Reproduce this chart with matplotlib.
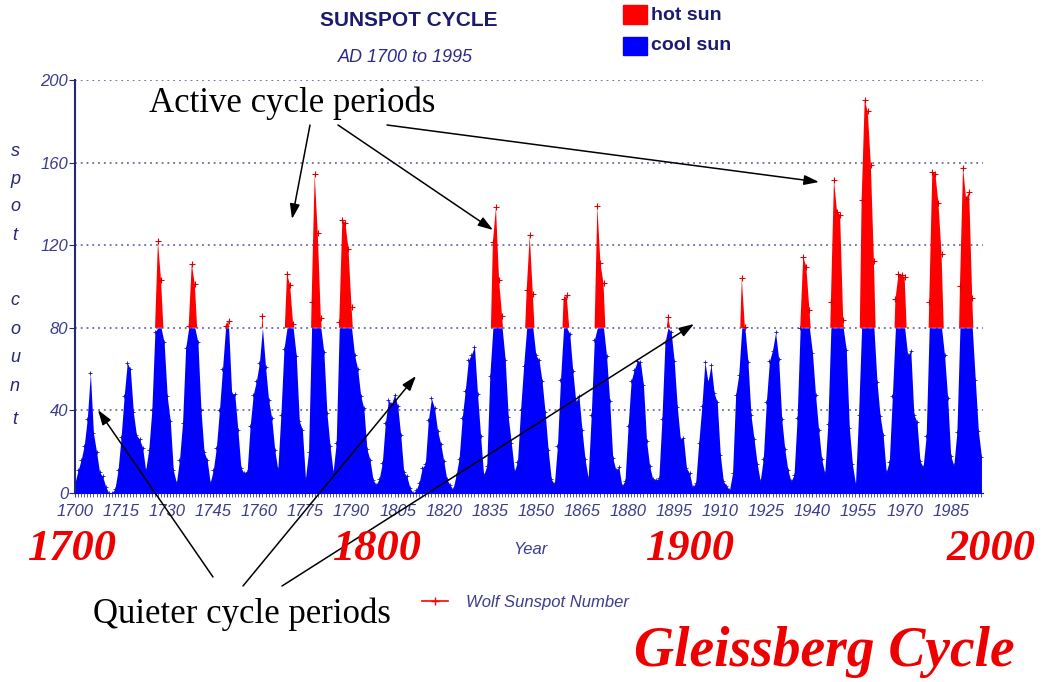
import matplotlib
matplotlib.use("Agg")
import matplotlib.pyplot as plt
import numpy as np
from matplotlib.patches import Rectangle

# yearly Wolf sunspot numbers, AD 1700 - 1995
years = np.arange(1700, 1996)
ssn = [
    5, 11, 16, 23, 36, 58, 29, 20, 10, 8,
    3, 0, 0, 2, 11, 27, 47, 63, 60, 39,
    28, 26, 22, 11, 21, 40, 78, 122, 103, 73,
    47, 35, 11, 5, 16, 34, 70, 81, 111, 101,
    73, 40, 20, 16, 5, 11, 22, 40, 60, 80.9,
    83.4, 47.7, 47.8, 30.7, 12.2, 9.6, 10.2, 32.4, 47.6, 54.0,
    62.9, 85.9, 61.2, 45.1, 36.4, 20.9, 11.4, 37.8, 69.8, 106.1,
    100.8, 81.6, 66.5, 34.8, 30.6, 7.0, 19.8, 92.5, 154.4, 125.9,
    84.8, 68.1, 38.5, 22.8, 10.2, 24.1, 82.9, 132.0, 130.9, 118.1,
    89.9, 66.6, 60.0, 46.9, 41.0, 21.3, 16.0, 6.4, 4.1, 6.8,
    14.5, 34.0, 45.0, 43.1, 47.5, 42.2, 28.1, 10.1, 8.1, 2.5,
    0.0, 1.4, 5.0, 12.2, 13.9, 35.4, 45.8, 41.1, 30.1, 23.9,
    15.6, 6.6, 4.0, 1.8, 8.5, 16.6, 36.3, 49.6, 64.2, 67.0,
    70.9, 47.8, 27.5, 8.5, 13.2, 56.9, 121.5, 138.3, 103.2, 85.7,
    64.6, 36.7, 24.2, 10.7, 15.0, 40.1, 61.5, 98.5, 124.7, 96.3,
    66.6, 64.5, 54.1, 39.0, 20.6, 6.7, 4.3, 22.7, 54.8, 93.8,
    95.8, 77.2, 59.1, 44.0, 47.0, 30.5, 16.3, 7.3, 37.6, 74.0,
    139.0, 111.2, 101.6, 66.2, 44.7, 17.0, 11.3, 12.4, 3.4, 6.0,
    32.3, 54.3, 59.7, 63.7, 63.5, 52.2, 25.4, 13.1, 6.8, 6.3,
    7.1, 35.6, 73.0, 85.1, 78.0, 64.0, 41.8, 26.2, 26.7, 12.1,
    9.5, 2.7, 5.0, 24.4, 42.0, 63.5, 53.8, 62.0, 48.5, 43.9,
    18.6, 5.7, 3.6, 1.4, 9.6, 47.4, 57.1, 103.9, 80.6, 63.6,
    37.6, 26.1, 14.2, 5.8, 16.7, 44.3, 63.9, 69.0, 77.8, 64.9,
    35.7, 21.2, 11.1, 5.7, 8.7, 36.1, 79.7, 114.4, 109.6, 88.8,
    67.8, 47.5, 30.6, 16.3, 9.6, 33.2, 92.6, 151.6, 136.3, 134.7,
    83.9, 69.4, 31.5, 13.9, 4.4, 38.0, 141.7, 190.2, 184.8, 159.0,
    112.3, 53.9, 37.5, 27.9, 10.2, 15.1, 47.0, 93.8, 105.9, 105.5,
    104.5, 66.6, 68.9, 38.0, 34.5, 15.5, 12.6, 27.5, 92.5, 155.4,
    154.6, 140.4, 115.9, 66.6, 45.9, 17.9, 13.4, 29.4, 100.2, 157.6,
    142.6, 145.7, 94.3, 54.6, 29.9, 17.5,
]
ssn = np.array(ssn, dtype=float)
hot_level = 80
xtick_years = list(range(1700, 1995, 15))
ytick_vals = [0, 40, 80, 120, 160, 200]
century_labels = ["1700", "1800", "1900", "2000"]

W, H = 1043, 682
navy = "#26267a"
tickcol = "#3c3c8c"

def fx(px):
    return px / W

def fy(py):
    return 1 - py / H

fig = plt.figure(figsize=(W / 100, H / 100), dpi=100)
ax = fig.add_axes([fx(75), fy(493), fx(983) - fx(75), fy(80) - fy(493)])

ax.fill_between(years, 0, np.minimum(ssn, hot_level), color="#0000ff", lw=0)
ax.fill_between(years, hot_level, ssn, where=ssn > hot_level, interpolate=True,
                color="#ff0000", lw=0)
hot = ssn > hot_level
ax.plot(years[hot], ssn[hot], ls="none", marker="+", ms=4, mew=0.8, color="#dd0000")
ax.plot(years[~hot], ssn[~hot], ls="none", marker="+", ms=3, mew=0.6, color="#1010c0")

ax.set_xlim(1700, 1995.5)
ax.set_ylim(0, 200)
for v in ytick_vals[1:]:
    ax.axhline(v, color="#6a6aa8", lw=1.3, ls=(0, (1, 2.2)), zorder=0)

ax.set_xticks(xtick_years)
ax.set_xticks(years, minor=True)
ax.set_yticks(ytick_vals)
ax.tick_params(axis="x", which="both", direction="out", length=3, color=tickcol,
               pad=5)
ax.tick_params(axis="y", direction="out", length=4, color=navy, pad=1)
for lab in ax.get_xticklabels() + ax.get_yticklabels():
    lab.set_fontfamily("Liberation Sans")
    lab.set_fontstyle("italic")
    lab.set_fontsize(12)
    lab.set_color(tickcol)
for s in ["top", "right"]:
    ax.spines[s].set_visible(False)
ax.spines["left"].set_color(navy)
ax.spines["left"].set_linewidth(1.5)
ax.spines["bottom"].set_color("#0000ff")

narrow = ["Liberation Sans Narrow", "Liberation Sans"]

# title block
fig.text(fx(409), fy(20), "SUNSPOT CYCLE", ha="center", va="center",
         family=narrow, fontweight="bold", fontsize=15, color="#1a1a6e")
fig.text(fx(405), fy(58), "AD 1700 to 1995", ha="center", va="center",
         family="Liberation Sans", style="italic", fontsize=13, color="#2a2a8a")

# legend boxes
fig.patches.append(Rectangle((fx(623), fy(24)), fx(24), fy(5) - fy(24),
                             transform=fig.transFigure, color="#ff0000"))
fig.patches.append(Rectangle((fx(623), fy(55)), fx(24), fy(37) - fy(55),
                             transform=fig.transFigure, color="#0000ff"))
fig.text(fx(651), fy(15), "hot sun", ha="left", va="center", family=narrow,
         fontweight="bold", fontsize=14, color="#1a1a6e")
fig.text(fx(651), fy(45), "cool sun", ha="left", va="center", family=narrow,
         fontweight="bold", fontsize=14, color="#1a1a6e")

# vertical axis label
letters_y = [152, 180, 207, 236, 300, 329, 357, 386, 420]
for ch, py in zip("spotcount", letters_y):
    fig.text(fx(15), fy(py), ch, ha="center", va="center", family="Liberation Sans",
             style="italic", fontsize=13, color=navy)

fig.text(fx(530), fy(550), "Year", ha="center", va="center", family="Liberation Sans",
         style="italic", fontsize=12, color=tickcol)

# series key
key = plt.Line2D([fx(422), fx(435), fx(448)], [fy(601)] * 3,
                 transform=fig.transFigure, color="#ff0000", lw=1.2,
                 marker="+", markevery=[1], ms=6)
fig.lines.append(key)
fig.text(fx(466), fy(603), "Wolf Sunspot Number", ha="left", va="center",
         family="Liberation Sans", style="italic", fontsize=12, color=tickcol)

# big red century markers
for lab, px in zip(century_labels, [72, 377, 690, 991]):
    fig.text(fx(px), fy(549), lab, ha="center", va="center", family="Liberation Serif",
             fontweight="bold", style="italic", fontsize=32, color="#ee0000")

fig.text(fx(824), fy(652), "Gleissberg Cycle", ha="center", va="center",
         family="Liberation Serif", fontweight="bold", style="italic", fontsize=40,
         color="#ee0000")

# annotations
fig.text(fx(292), fy(103), "Active cycle periods", ha="center", va="center",
         family="Liberation Serif", fontsize=25, color="black")
fig.text(fx(242), fy(614), "Quieter cycle periods", ha="center", va="center",
         family="Liberation Serif", fontsize=25, color="black")

arrows = [
    ((310, 125), (292, 219)),
    ((338, 125), (493, 230)),
    ((387, 125), (819, 182)),
    ((213, 577), (98, 410)),
    ((243, 586), (416, 376)),
    ((282, 586), (694, 324)),
]
for (x0, y0), (x1, y1) in arrows:
    ax.annotate("", xy=(fx(x1), fy(y1)), xytext=(fx(x0), fy(y0)),
                xycoords="figure fraction", textcoords="figure fraction",
                arrowprops=dict(arrowstyle="-|>,head_length=0.9,head_width=0.3",
                                color="black", lw=1.1, shrinkA=0, shrinkB=0),
                annotation_clip=False)

fig.savefig("out.png", dpi=100)
